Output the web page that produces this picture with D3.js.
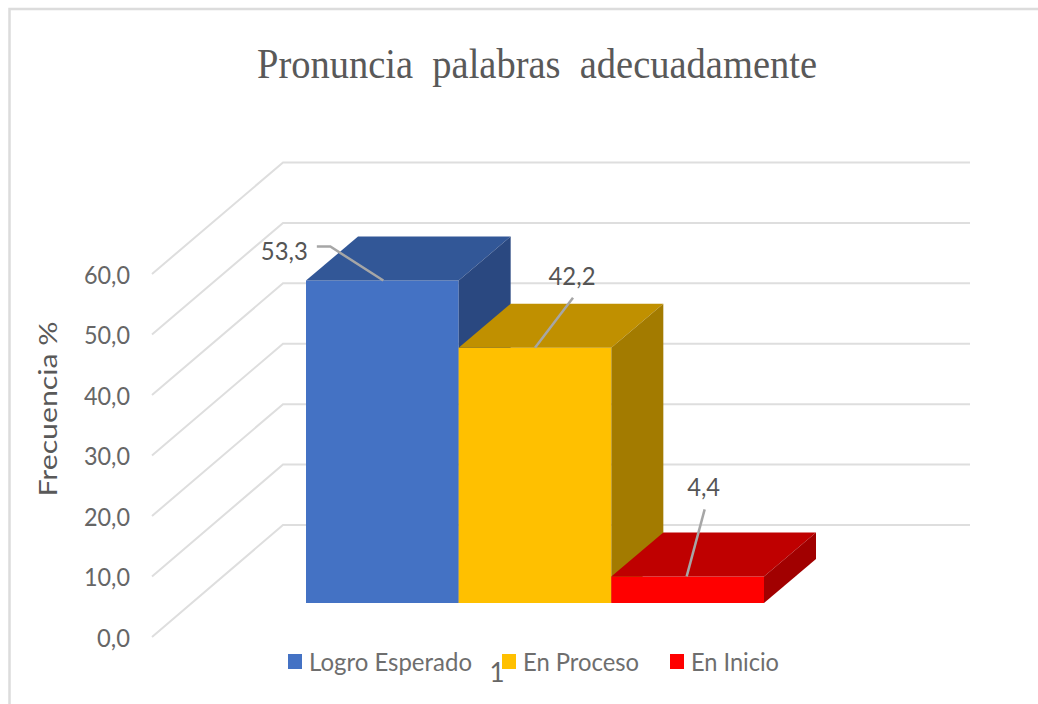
<!DOCTYPE html>
<html><head><meta charset="utf-8">
<script src="https://cdn.jsdelivr.net/npm/d3@7"></script>
<style>html,body{margin:0;padding:0;background:#fff}svg{display:block}</style>
</head><body><div id="c"></div>
<script>
const chartTitle = "Pronuncia  palabras  adecuadamente";
const yAxisTitle = "Frecuencia %";
const seriesNames = ["Logro Esperado", "En Proceso", "En Inicio"];
const seriesValues = [53.3, 42.2, 4.4];
const valueLabels = ["53,3", "42,2", "4,4"];
const categoryLabel = "1";
const yTicks = [0, 10, 20, 30, 40, 50, 60];

const frontColors = ["#4472C4", "#FFC000", "#FF0000"];
const topColors = ["#325797", "#C09000", "#BF0000"];
const sideColors = ["#2A4880", "#A37B00", "#A10000"];

const W = 1038, H = 704;
const svg = d3.select("#c").append("svg").attr("width", W).attr("height", H)
  .style("font-family", "Lato, sans-serif");

// Frame
svg.append("path").attr("d", `M9.5,704V9H${W}`).attr("fill", "none")
  .attr("stroke", "#dcdcdc").attr("stroke-width", 2.5);

// Scales for the three depth planes of the 3-D box
const yFront = d3.scaleLinear().domain([0, 60]).range([637, 274]);
const yWall = d3.scaleLinear().domain([0, 60]).range([525, 162.5]);
const yBar = d3.scaleLinear().domain([0, 60]).range([603, 240]);
const x = d3.scaleBand().domain(seriesNames).range([306, 764]);
const frontX = 152, wallX = 283, wallEnd = 970;
const depthX = 52, depthY = -44;

// Gridlines
const grid = svg.append("g").attr("fill", "none").attr("stroke", "#dedede").attr("stroke-width", 2);
grid.selectAll("path").data(yTicks).join("path")
  .attr("d", d => d3.line()([[frontX, yFront(d)], [wallX, yWall(d)], [wallEnd, yWall(d)]]));

// Y axis labels
const axis = d3.axisLeft(yFront).tickValues(yTicks).tickSize(0).tickPadding(0)
  .tickFormat(d => d3.format(".1f")(d).replace(".", ","));
const axisG = svg.append("g").attr("transform", "translate(130,1)").call(axis);
axisG.select(".domain").remove();
axisG.selectAll("text").attr("font-size", 25).attr("font-family", "Lato, sans-serif")
  .attr("fill", "#666").attr("dy", "0.32em")
  .attr("textLength", d => d === 0 ? 33 : 46).attr("lengthAdjust", "spacingAndGlyphs");

svg.append("text").attr("transform", "translate(57,409) rotate(-90)")
  .attr("text-anchor", "middle").attr("font-size", 25).attr("fill", "#595959")
  .attr("textLength", 175).attr("lengthAdjust", "spacingAndGlyphs").text(yAxisTitle);

// Bars
const bars = svg.append("g").selectAll("g").data(seriesNames).join("g");
bars.each(function (name, i) {
  const g = d3.select(this);
  const x0 = x(name), x1 = x0 + x.bandwidth();
  const y0 = yBar(0), y1 = yBar(seriesValues[i]);
  const poly = pts => d3.line()(pts) + "Z";
  g.append("path").attr("fill", frontColors[i]).attr("d", poly([[x0, y1], [x1, y1], [x1, y0], [x0, y0]]));
  g.append("path").attr("fill", topColors[i]).attr("d", poly([[x0, y1], [x0 + depthX, y1 + depthY], [x1 + depthX, y1 + depthY], [x1, y1]]));
  g.append("path").attr("fill", sideColors[i]).attr("d", poly([[x1, y1], [x1 + depthX, y1 + depthY], [x1 + depthX, y0 + depthY], [x1, y0]]));
});

// Data labels and leader lines; offsets relative to the centre of each bar's top front edge
const leaderOffsets = [
  [[-65.5, -34], [-52, -34], [1, 0]],
  [[38, -50], [0, 0]],
  [[17, -67], [-1, 0]]
];
const labelOffsets = [[-98, -30], [37, -71.5], [16, -89]];
const labelWidths = [47, 47, 33];
const labels = svg.append("g");
seriesNames.forEach((name, i) => {
  const cx = x(name) + x.bandwidth() / 2, cy = yBar(seriesValues[i]);
  labels.append("path").attr("fill", "none").attr("stroke", "#a6a6a6").attr("stroke-width", 2.5)
    .attr("d", d3.line()(leaderOffsets[i].map(p => [cx + p[0], cy + p[1]])));
  labels.append("text").attr("x", cx + labelOffsets[i][0]).attr("y", cy + labelOffsets[i][1])
    .attr("dy", "0.36em").attr("text-anchor", "middle").attr("font-size", 25).attr("fill", "#555")
    .attr("textLength", labelWidths[i]).attr("lengthAdjust", "spacingAndGlyphs")
    .text(valueLabels[i]);
});

// Title
svg.append("text").attr("x", 537).attr("y", 78).attr("text-anchor", "middle")
  .attr("font-family", "'Liberation Serif', serif").attr("font-size", 42).attr("fill", "#595959")
  .attr("xml:space", "preserve").style("white-space", "pre")
  .attr("textLength", 560).attr("lengthAdjust", "spacingAndGlyphs").text(chartTitle);

// Legend
const legendSwatchX = [288, 502, 670];
const legendTextX = [309, 523, 691];
const legendTextW = [163, 116, 88];
const legend = svg.append("g").selectAll("g").data(seriesNames).join("g");
legend.append("rect").attr("x", (d, i) => legendSwatchX[i]).attr("y", 654)
  .attr("width", 14).attr("height", 15).attr("fill", (d, i) => frontColors[i]);
legend.append("text").attr("x", (d, i) => legendTextX[i]).attr("y", 671)
  .attr("font-size", 25).attr("fill", "#6e6e6e")
  .attr("textLength", (d, i) => legendTextW[i]).attr("lengthAdjust", "spacingAndGlyphs").text(d => d);

// Category label
svg.append("text").attr("x", 497).attr("y", 682).attr("text-anchor", "middle")
  .attr("font-size", 26).attr("fill", "#666").text(categoryLabel);
</script></body></html>
